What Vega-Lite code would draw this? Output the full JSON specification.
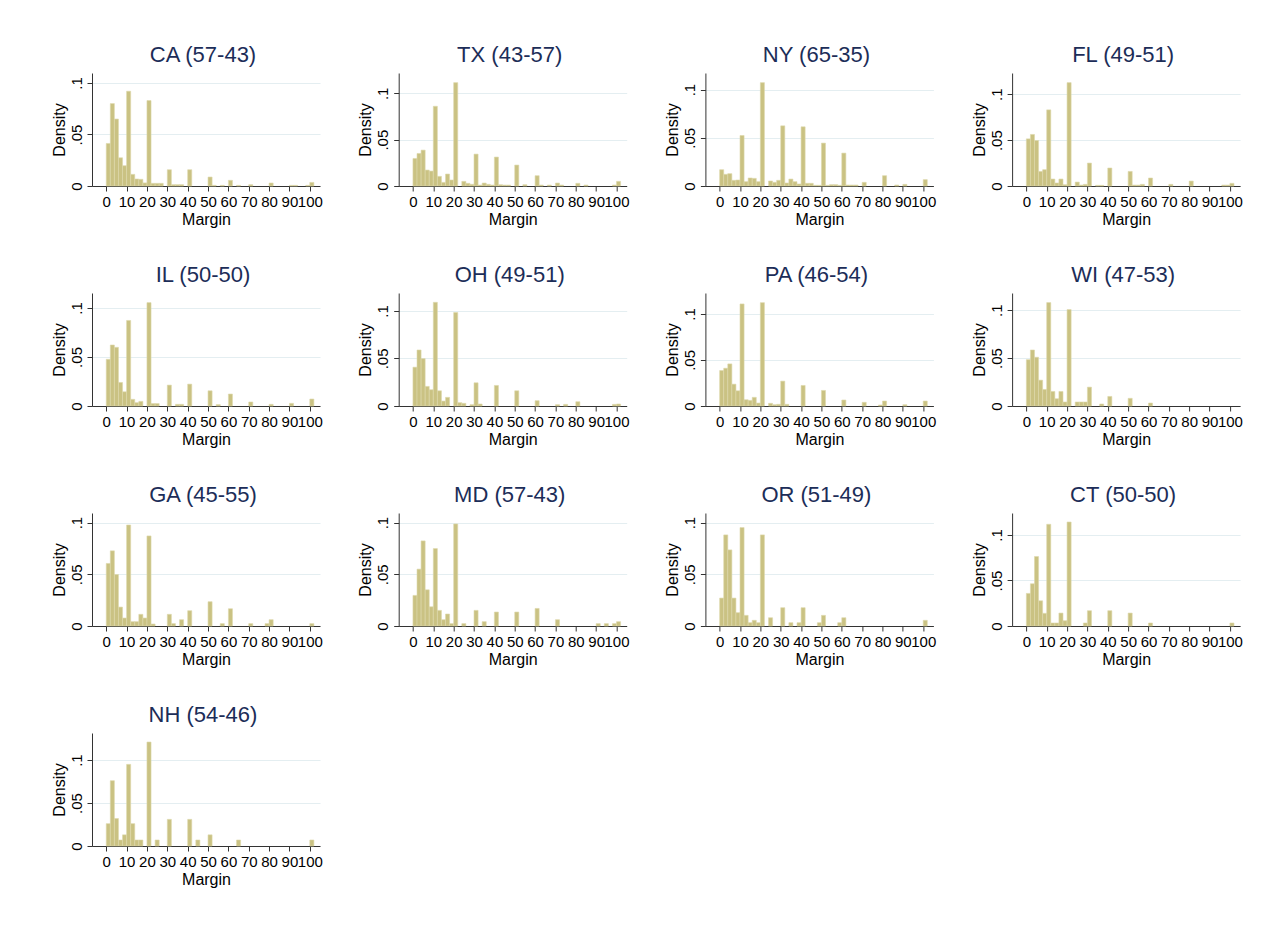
{
  "$schema": "https://vega.github.io/schema/vega-lite/v6.json",
  "background": "white",
  "padding": {"left": 51, "top": 44, "right": 10, "bottom": 10},
  "columns": 4,
  "spacing": {"row": 107, "column": 78.7},
  "bounds": "flush",
  "datasets": {
    "hist": [
      {"state":"CA","margin":0,"density":0.0413},{"state":"CA","margin":2,"density":0.080},{"state":"CA","margin":4,"density":0.065},{"state":"CA","margin":6,"density":0.0274},{"state":"CA","margin":8,"density":0.0197},{"state":"CA","margin":10,"density":0.092},{"state":"CA","margin":12,"density":0.0113},{"state":"CA","margin":14,"density":0.0068},{"state":"CA","margin":16,"density":0.0065},{"state":"CA","margin":18,"density":0.003},{"state":"CA","margin":20,"density":0.083},{"state":"CA","margin":22,"density":0.0026},{"state":"CA","margin":24,"density":0.0026},{"state":"CA","margin":26,"density":0.0026},{"state":"CA","margin":30,"density":0.0158},{"state":"CA","margin":32,"density":0.0013},{"state":"CA","margin":34,"density":0.0013},{"state":"CA","margin":36,"density":0.0013},{"state":"CA","margin":40,"density":0.0158},{"state":"CA","margin":50,"density":0.0087},{"state":"CA","margin":52,"density":0.0006},{"state":"CA","margin":56,"density":0.0006},{"state":"CA","margin":60,"density":0.0055},{"state":"CA","margin":64,"density":0.0006},{"state":"CA","margin":70,"density":0.0013},{"state":"CA","margin":80,"density":0.0029},{"state":"CA","margin":90,"density":0.0006},{"state":"CA","margin":92,"density":0.0006},{"state":"CA","margin":98,"density":0.0006},{"state":"CA","margin":100,"density":0.0035},
      {"state":"TX","margin":0,"density":0.0297},{"state":"TX","margin":2,"density":0.0351},{"state":"TX","margin":4,"density":0.0387},{"state":"TX","margin":6,"density":0.0172},{"state":"TX","margin":8,"density":0.0161},{"state":"TX","margin":10,"density":0.086},{"state":"TX","margin":12,"density":0.0104},{"state":"TX","margin":14,"density":0.0039},{"state":"TX","margin":16,"density":0.0129},{"state":"TX","margin":18,"density":0.0065},{"state":"TX","margin":20,"density":0.1115},{"state":"TX","margin":24,"density":0.005},{"state":"TX","margin":26,"density":0.0029},{"state":"TX","margin":28,"density":0.0018},{"state":"TX","margin":30,"density":0.0344},{"state":"TX","margin":32,"density":0.001},{"state":"TX","margin":34,"density":0.0032},{"state":"TX","margin":36,"density":0.0018},{"state":"TX","margin":38,"density":0.001},{"state":"TX","margin":40,"density":0.0312},{"state":"TX","margin":42,"density":0.0014},{"state":"TX","margin":44,"density":0.001},{"state":"TX","margin":46,"density":0.001},{"state":"TX","margin":50,"density":0.0226},{"state":"TX","margin":54,"density":0.0014},{"state":"TX","margin":60,"density":0.0111},{"state":"TX","margin":62,"density":0.001},{"state":"TX","margin":66,"density":0.001},{"state":"TX","margin":70,"density":0.0032},{"state":"TX","margin":72,"density":0.001},{"state":"TX","margin":80,"density":0.0029},{"state":"TX","margin":84,"density":0.001},{"state":"TX","margin":98,"density":0.001},{"state":"TX","margin":100,"density":0.005},
      {"state":"NY","margin":0,"density":0.0169},{"state":"NY","margin":2,"density":0.0121},{"state":"NY","margin":4,"density":0.0128},{"state":"NY","margin":6,"density":0.0059},{"state":"NY","margin":8,"density":0.0062},{"state":"NY","margin":10,"density":0.0524},{"state":"NY","margin":12,"density":0.0045},{"state":"NY","margin":14,"density":0.0083},{"state":"NY","margin":16,"density":0.0079},{"state":"NY","margin":18,"density":0.0045},{"state":"NY","margin":20,"density":0.1072},{"state":"NY","margin":24,"density":0.0052},{"state":"NY","margin":26,"density":0.0038},{"state":"NY","margin":28,"density":0.0059},{"state":"NY","margin":30,"density":0.0624},{"state":"NY","margin":32,"density":0.0031},{"state":"NY","margin":34,"density":0.0072},{"state":"NY","margin":36,"density":0.0045},{"state":"NY","margin":38,"density":0.0021},{"state":"NY","margin":40,"density":0.0614},{"state":"NY","margin":42,"density":0.0028},{"state":"NY","margin":44,"density":0.0028},{"state":"NY","margin":46,"density":0.0007},{"state":"NY","margin":48,"density":0.0007},{"state":"NY","margin":50,"density":0.0445},{"state":"NY","margin":52,"density":0.0007},{"state":"NY","margin":54,"density":0.0014},{"state":"NY","margin":56,"density":0.0014},{"state":"NY","margin":58,"density":0.0007},{"state":"NY","margin":60,"density":0.0341},{"state":"NY","margin":62,"density":0.001},{"state":"NY","margin":64,"density":0.001},{"state":"NY","margin":66,"density":0.001},{"state":"NY","margin":70,"density":0.0038},{"state":"NY","margin":80,"density":0.0107},{"state":"NY","margin":86,"density":0.001},{"state":"NY","margin":90,"density":0.0017},{"state":"NY","margin":100,"density":0.0066},
      {"state":"FL","margin":0,"density":0.0514},{"state":"FL","margin":2,"density":0.0562},{"state":"FL","margin":4,"density":0.0496},{"state":"FL","margin":6,"density":0.0159},{"state":"FL","margin":8,"density":0.0178},{"state":"FL","margin":10,"density":0.083},{"state":"FL","margin":12,"density":0.0076},{"state":"FL","margin":14,"density":0.0033},{"state":"FL","margin":16,"density":0.0076},{"state":"FL","margin":18,"density":0.0014},{"state":"FL","margin":20,"density":0.1127},{"state":"FL","margin":24,"density":0.0043},{"state":"FL","margin":26,"density":0.001},{"state":"FL","margin":28,"density":0.0018},{"state":"FL","margin":30,"density":0.025},{"state":"FL","margin":34,"density":0.0007},{"state":"FL","margin":36,"density":0.0007},{"state":"FL","margin":40,"density":0.0196},{"state":"FL","margin":50,"density":0.0159},{"state":"FL","margin":52,"density":0.001},{"state":"FL","margin":54,"density":0.001},{"state":"FL","margin":56,"density":0.0018},{"state":"FL","margin":60,"density":0.0087},{"state":"FL","margin":70,"density":0.0018},{"state":"FL","margin":80,"density":0.0054},{"state":"FL","margin":96,"density":0.001},{"state":"FL","margin":98,"density":0.001},{"state":"FL","margin":100,"density":0.0029},
      {"state":"IL","margin":0,"density":0.0476},{"state":"IL","margin":2,"density":0.0622},{"state":"IL","margin":4,"density":0.0598},{"state":"IL","margin":6,"density":0.024},{"state":"IL","margin":8,"density":0.0145},{"state":"IL","margin":10,"density":0.0872},{"state":"IL","margin":12,"density":0.0068},{"state":"IL","margin":14,"density":0.0034},{"state":"IL","margin":16,"density":0.0047},{"state":"IL","margin":20,"density":0.1054},{"state":"IL","margin":22,"density":0.0025},{"state":"IL","margin":24,"density":0.0025},{"state":"IL","margin":30,"density":0.0213},{"state":"IL","margin":34,"density":0.0017},{"state":"IL","margin":36,"density":0.0017},{"state":"IL","margin":40,"density":0.0223},{"state":"IL","margin":50,"density":0.0155},{"state":"IL","margin":54,"density":0.0014},{"state":"IL","margin":60,"density":0.0122},{"state":"IL","margin":70,"density":0.0041},{"state":"IL","margin":80,"density":0.0017},{"state":"IL","margin":90,"density":0.0027},{"state":"IL","margin":100,"density":0.0071},
      {"state":"OH","margin":0,"density":0.0408},{"state":"OH","margin":2,"density":0.0589},{"state":"OH","margin":4,"density":0.0498},{"state":"OH","margin":6,"density":0.0206},{"state":"OH","margin":8,"density":0.0171},{"state":"OH","margin":10,"density":0.109},{"state":"OH","margin":12,"density":0.016},{"state":"OH","margin":14,"density":0.0052},{"state":"OH","margin":16,"density":0.0091},{"state":"OH","margin":20,"density":0.0983},{"state":"OH","margin":22,"density":0.0035},{"state":"OH","margin":24,"density":0.0028},{"state":"OH","margin":28,"density":0.0014},{"state":"OH","margin":30,"density":0.0244},{"state":"OH","margin":32,"density":0.0021},{"state":"OH","margin":40,"density":0.0216},{"state":"OH","margin":50,"density":0.016},{"state":"OH","margin":60,"density":0.0056},{"state":"OH","margin":70,"density":0.0014},{"state":"OH","margin":74,"density":0.0017},{"state":"OH","margin":80,"density":0.0045},{"state":"OH","margin":98,"density":0.0017},{"state":"OH","margin":100,"density":0.0021},
      {"state":"PA","margin":0,"density":0.0385},{"state":"PA","margin":2,"density":0.041},{"state":"PA","margin":4,"density":0.0457},{"state":"PA","margin":6,"density":0.0237},{"state":"PA","margin":8,"density":0.0165},{"state":"PA","margin":10,"density":0.1108},{"state":"PA","margin":12,"density":0.0068},{"state":"PA","margin":14,"density":0.0061},{"state":"PA","margin":16,"density":0.0094},{"state":"PA","margin":18,"density":0.0032},{"state":"PA","margin":20,"density":0.1122},{"state":"PA","margin":24,"density":0.0029},{"state":"PA","margin":26,"density":0.0014},{"state":"PA","margin":28,"density":0.0018},{"state":"PA","margin":30,"density":0.027},{"state":"PA","margin":32,"density":0.0018},{"state":"PA","margin":40,"density":0.0223},{"state":"PA","margin":50,"density":0.0169},{"state":"PA","margin":60,"density":0.0065},{"state":"PA","margin":70,"density":0.004},{"state":"PA","margin":78,"density":0.0011},{"state":"PA","margin":80,"density":0.0054},{"state":"PA","margin":90,"density":0.0014},{"state":"PA","margin":100,"density":0.0054},
      {"state":"WI","margin":0,"density":0.0484},{"state":"WI","margin":2,"density":0.0585},{"state":"WI","margin":4,"density":0.0509},{"state":"WI","margin":6,"density":0.027},{"state":"WI","margin":8,"density":0.0173},{"state":"WI","margin":10,"density":0.108},{"state":"WI","margin":12,"density":0.0152},{"state":"WI","margin":14,"density":0.0076},{"state":"WI","margin":16,"density":0.0152},{"state":"WI","margin":18,"density":0.0042},{"state":"WI","margin":20,"density":0.1007},{"state":"WI","margin":24,"density":0.0042},{"state":"WI","margin":26,"density":0.0042},{"state":"WI","margin":28,"density":0.0042},{"state":"WI","margin":30,"density":0.0197},{"state":"WI","margin":36,"density":0.0021},{"state":"WI","margin":40,"density":0.01},{"state":"WI","margin":50,"density":0.008},{"state":"WI","margin":60,"density":0.0031},
      {"state":"GA","margin":0,"density":0.0605},{"state":"GA","margin":2,"density":0.0727},{"state":"GA","margin":4,"density":0.0498},{"state":"GA","margin":6,"density":0.0183},{"state":"GA","margin":8,"density":0.0077},{"state":"GA","margin":10,"density":0.0977},{"state":"GA","margin":12,"density":0.0042},{"state":"GA","margin":14,"density":0.0042},{"state":"GA","margin":16,"density":0.0113},{"state":"GA","margin":18,"density":0.0077},{"state":"GA","margin":20,"density":0.0871},{"state":"GA","margin":22,"density":0.0019},{"state":"GA","margin":30,"density":0.0113},{"state":"GA","margin":32,"density":0.0023},{"state":"GA","margin":36,"density":0.0061},{"state":"GA","margin":40,"density":0.0148},{"state":"GA","margin":50,"density":0.0235},{"state":"GA","margin":56,"density":0.0023},{"state":"GA","margin":60,"density":0.0167},{"state":"GA","margin":70,"density":0.0023},{"state":"GA","margin":78,"density":0.0023},{"state":"GA","margin":80,"density":0.0061},{"state":"GA","margin":100,"density":0.0023},
      {"state":"MD","margin":0,"density":0.0296},{"state":"MD","margin":2,"density":0.055},{"state":"MD","margin":4,"density":0.0823},{"state":"MD","margin":6,"density":0.035},{"state":"MD","margin":8,"density":0.0186},{"state":"MD","margin":10,"density":0.0749},{"state":"MD","margin":12,"density":0.0151},{"state":"MD","margin":14,"density":0.0061},{"state":"MD","margin":16,"density":0.0116},{"state":"MD","margin":18,"density":0.0023},{"state":"MD","margin":20,"density":0.0987},{"state":"MD","margin":24,"density":0.0023},{"state":"MD","margin":30,"density":0.0151},{"state":"MD","margin":34,"density":0.0042},{"state":"MD","margin":40,"density":0.0135},{"state":"MD","margin":50,"density":0.0135},{"state":"MD","margin":60,"density":0.017},{"state":"MD","margin":70,"density":0.0061},{"state":"MD","margin":90,"density":0.0023},{"state":"MD","margin":94,"density":0.0023},{"state":"MD","margin":98,"density":0.0023},{"state":"MD","margin":100,"density":0.0042},
      {"state":"OR","margin":0,"density":0.027},{"state":"OR","margin":2,"density":0.0881},{"state":"OR","margin":4,"density":0.0736},{"state":"OR","margin":6,"density":0.027},{"state":"OR","margin":8,"density":0.0129},{"state":"OR","margin":10,"density":0.0952},{"state":"OR","margin":12,"density":0.0103},{"state":"OR","margin":14,"density":0.0032},{"state":"OR","margin":16,"density":0.0055},{"state":"OR","margin":18,"density":0.0032},{"state":"OR","margin":20,"density":0.0881},{"state":"OR","margin":24,"density":0.008},{"state":"OR","margin":30,"density":0.0177},{"state":"OR","margin":34,"density":0.0032},{"state":"OR","margin":38,"density":0.0032},{"state":"OR","margin":40,"density":0.0177},{"state":"OR","margin":48,"density":0.0032},{"state":"OR","margin":50,"density":0.0103},{"state":"OR","margin":58,"density":0.0032},{"state":"OR","margin":60,"density":0.008},{"state":"OR","margin":100,"density":0.0055},
      {"state":"CT","margin":0,"density":0.0358},{"state":"CT","margin":2,"density":0.0464},{"state":"CT","margin":4,"density":0.0763},{"state":"CT","margin":6,"density":0.0277},{"state":"CT","margin":8,"density":0.0139},{"state":"CT","margin":10,"density":0.1117},{"state":"CT","margin":12,"density":0.0033},{"state":"CT","margin":14,"density":0.0033},{"state":"CT","margin":16,"density":0.0142},{"state":"CT","margin":18,"density":0.0058},{"state":"CT","margin":20,"density":0.1142},{"state":"CT","margin":28,"density":0.0033},{"state":"CT","margin":30,"density":0.0168},{"state":"CT","margin":40,"density":0.0168},{"state":"CT","margin":50,"density":0.0142},{"state":"CT","margin":60,"density":0.0033},{"state":"CT","margin":100,"density":0.0033},
      {"state":"NH","margin":0,"density":0.026},{"state":"NH","margin":2,"density":0.076},{"state":"NH","margin":4,"density":0.032},{"state":"NH","margin":6,"density":0.007},{"state":"NH","margin":8,"density":0.013},{"state":"NH","margin":10,"density":0.095},{"state":"NH","margin":12,"density":0.026},{"state":"NH","margin":14,"density":0.007},{"state":"NH","margin":16,"density":0.007},{"state":"NH","margin":20,"density":0.121},{"state":"NH","margin":24,"density":0.007},{"state":"NH","margin":30,"density":0.031},{"state":"NH","margin":40,"density":0.031},{"state":"NH","margin":44,"density":0.007},{"state":"NH","margin":50,"density":0.013},{"state":"NH","margin":64,"density":0.007},{"state":"NH","margin":100,"density":0.007}
    ]
  },
  "data": {"name": "hist"},
  "transform": [
    {"bin": {"extent": [-1, 101], "step": 2}, "field": "margin", "as": ["lo", "hi"]}
  ],
  "concat": [
    {"title": "CA (57-43)", "width": 228, "height": 113, "transform": [{"filter": "datum.state === 'CA'"}], "mark": "bar",
     "encoding": {"x": {"field": "lo", "type": "quantitative", "title": "Margin", "scale": {"domain": [-7, 105], "nice": false, "zero": false}, "axis": {"values": [0,10,20,30,40,50,60,70,80,90,100]}}, "x2": {"field": "hi"},
       "y": {"field": "density", "type": "quantitative", "title": "Density", "scale": {"domain": [0, 0.1097], "nice": false}, "axis": {"values": [0, 0.05, 0.1]}}, "y2": {"datum": 0}}},
    {"title": "TX (43-57)", "width": 228, "height": 113, "transform": [{"filter": "datum.state === 'TX'"}], "mark": "bar",
     "encoding": {"x": {"field": "lo", "type": "quantitative", "title": "Margin", "scale": {"domain": [-7, 105], "nice": false, "zero": false}, "axis": {"values": [0,10,20,30,40,50,60,70,80,90,100]}}, "x2": {"field": "hi"},
       "y": {"field": "density", "type": "quantitative", "title": "Density", "scale": {"domain": [0, 0.1219], "nice": false}, "axis": {"values": [0, 0.05, 0.1]}}, "y2": {"datum": 0}}},
    {"title": "NY (65-35)", "width": 228, "height": 113, "transform": [{"filter": "datum.state === 'NY'"}], "mark": "bar",
     "encoding": {"x": {"field": "lo", "type": "quantitative", "title": "Margin", "scale": {"domain": [-7, 105], "nice": false, "zero": false}, "axis": {"values": [0,10,20,30,40,50,60,70,80,90,100]}}, "x2": {"field": "hi"},
       "y": {"field": "density", "type": "quantitative", "title": "Density", "scale": {"domain": [0, 0.1172], "nice": false}, "axis": {"values": [0, 0.05, 0.1]}}, "y2": {"datum": 0}}},
    {"title": "FL (49-51)", "width": 228, "height": 113, "transform": [{"filter": "datum.state === 'FL'"}], "mark": "bar",
     "encoding": {"x": {"field": "lo", "type": "quantitative", "title": "Margin", "scale": {"domain": [-7, 105], "nice": false, "zero": false}, "axis": {"values": [0,10,20,30,40,50,60,70,80,90,100]}}, "x2": {"field": "hi"},
       "y": {"field": "density", "type": "quantitative", "title": "Density", "scale": {"domain": [0, 0.1232], "nice": false}, "axis": {"values": [0, 0.05, 0.1]}}, "y2": {"datum": 0}}},
    {"title": "IL (50-50)", "width": 228, "height": 113, "transform": [{"filter": "datum.state === 'IL'"}], "mark": "bar",
     "encoding": {"x": {"field": "lo", "type": "quantitative", "title": "Margin", "scale": {"domain": [-7, 105], "nice": false, "zero": false}, "axis": {"values": [0,10,20,30,40,50,60,70,80,90,100]}}, "x2": {"field": "hi"},
       "y": {"field": "density", "type": "quantitative", "title": "Density", "scale": {"domain": [0, 0.1152], "nice": false}, "axis": {"values": [0, 0.05, 0.1]}}, "y2": {"datum": 0}}},
    {"title": "OH (49-51)", "width": 228, "height": 113, "transform": [{"filter": "datum.state === 'OH'"}], "mark": "bar",
     "encoding": {"x": {"field": "lo", "type": "quantitative", "title": "Margin", "scale": {"domain": [-7, 105], "nice": false, "zero": false}, "axis": {"values": [0,10,20,30,40,50,60,70,80,90,100]}}, "x2": {"field": "hi"},
       "y": {"field": "density", "type": "quantitative", "title": "Density", "scale": {"domain": [0, 0.1188], "nice": false}, "axis": {"values": [0, 0.05, 0.1]}}, "y2": {"datum": 0}}},
    {"title": "PA (46-54)", "width": 228, "height": 113, "transform": [{"filter": "datum.state === 'PA'"}], "mark": "bar",
     "encoding": {"x": {"field": "lo", "type": "quantitative", "title": "Margin", "scale": {"domain": [-7, 105], "nice": false, "zero": false}, "axis": {"values": [0,10,20,30,40,50,60,70,80,90,100]}}, "x2": {"field": "hi"},
       "y": {"field": "density", "type": "quantitative", "title": "Density", "scale": {"domain": [0, 0.1227], "nice": false}, "axis": {"values": [0, 0.05, 0.1]}}, "y2": {"datum": 0}}},
    {"title": "WI (47-53)", "width": 228, "height": 113, "transform": [{"filter": "datum.state === 'WI'"}], "mark": "bar",
     "encoding": {"x": {"field": "lo", "type": "quantitative", "title": "Margin", "scale": {"domain": [-7, 105], "nice": false, "zero": false}, "axis": {"values": [0,10,20,30,40,50,60,70,80,90,100]}}, "x2": {"field": "hi"},
       "y": {"field": "density", "type": "quantitative", "title": "Density", "scale": {"domain": [0, 0.118], "nice": false}, "axis": {"values": [0, 0.05, 0.1]}}, "y2": {"datum": 0}}},
    {"title": "GA (45-55)", "width": 228, "height": 113, "transform": [{"filter": "datum.state === 'GA'"}], "mark": "bar",
     "encoding": {"x": {"field": "lo", "type": "quantitative", "title": "Margin", "scale": {"domain": [-7, 105], "nice": false, "zero": false}, "axis": {"values": [0,10,20,30,40,50,60,70,80,90,100]}}, "x2": {"field": "hi"},
       "y": {"field": "density", "type": "quantitative", "title": "Density", "scale": {"domain": [0, 0.1093], "nice": false}, "axis": {"values": [0, 0.05, 0.1]}}, "y2": {"datum": 0}}},
    {"title": "MD (57-43)", "width": 228, "height": 113, "transform": [{"filter": "datum.state === 'MD'"}], "mark": "bar",
     "encoding": {"x": {"field": "lo", "type": "quantitative", "title": "Margin", "scale": {"domain": [-7, 105], "nice": false, "zero": false}, "axis": {"values": [0,10,20,30,40,50,60,70,80,90,100]}}, "x2": {"field": "hi"},
       "y": {"field": "density", "type": "quantitative", "title": "Density", "scale": {"domain": [0, 0.1093], "nice": false}, "axis": {"values": [0, 0.05, 0.1]}}, "y2": {"datum": 0}}},
    {"title": "OR (51-49)", "width": 228, "height": 113, "transform": [{"filter": "datum.state === 'OR'"}], "mark": "bar",
     "encoding": {"x": {"field": "lo", "type": "quantitative", "title": "Margin", "scale": {"domain": [-7, 105], "nice": false, "zero": false}, "axis": {"values": [0,10,20,30,40,50,60,70,80,90,100]}}, "x2": {"field": "hi"},
       "y": {"field": "density", "type": "quantitative", "title": "Density", "scale": {"domain": [0, 0.1093], "nice": false}, "axis": {"values": [0, 0.05, 0.1]}}, "y2": {"datum": 0}}},
    {"title": "CT (50-50)", "width": 228, "height": 113, "transform": [{"filter": "datum.state === 'CT'"}], "mark": "bar",
     "encoding": {"x": {"field": "lo", "type": "quantitative", "title": "Margin", "scale": {"domain": [-7, 105], "nice": false, "zero": false}, "axis": {"values": [0,10,20,30,40,50,60,70,80,90,100]}}, "x2": {"field": "hi"},
       "y": {"field": "density", "type": "quantitative", "title": "Density", "scale": {"domain": [0, 0.1241], "nice": false}, "axis": {"values": [0, 0.05, 0.1]}}, "y2": {"datum": 0}}},
    {"title": "NH (54-46)", "width": 228, "height": 113, "transform": [{"filter": "datum.state === 'NH'"}], "mark": "bar",
     "encoding": {"x": {"field": "lo", "type": "quantitative", "title": "Margin", "scale": {"domain": [-7, 105], "nice": false, "zero": false}, "axis": {"values": [0,10,20,30,40,50,60,70,80,90,100]}}, "x2": {"field": "hi"},
       "y": {"field": "density", "type": "quantitative", "title": "Density", "scale": {"domain": [0, 0.1315], "nice": false}, "axis": {"values": [0, 0.05, 0.1]}}, "y2": {"datum": 0}}}
  ],
  "resolve": {"scale": {"x": "independent", "y": "independent"}},
  "config": {
    "font": "Liberation Sans",
    "view": {"stroke": null},
    "bar": {"fill": "#cac283", "stroke": "#ddd8ab", "strokeWidth": 0.6},
    "title": {"fontSize": 22, "fontWeight": "normal", "color": "#1c2d58", "anchor": "middle", "offset": 6, "dx": -3, "font": "Liberation Sans"},
    "axis": {
      "labelFont": "Liberation Sans", "titleFont": "Liberation Sans",
      "labelFontSize": 15, "titleFontSize": 16, "titleFontWeight": "normal",
      "labelColor": "#000000", "titleColor": "#000000",
      "domainColor": "#333333", "tickColor": "#333333", "tickSize": 5,
      "labelPadding": 3, "titlePadding": 2
    },
    "axisX": {"grid": false, "labelAngle": 0, "labelOverlap": false, "labelFlush": false},
    "axisY": {"grid": true, "gridColor": "#e4eef1", "gridWidth": 1.2, "labelAngle": -90, "labelAlign": "center", "labelBaseline": "bottom", "labelOverlap": false,
      "labelExpr": "datum.value == 0 ? '0' : replace(format(datum.value, '.2~f'), '0.', '.')"}
  }
}
